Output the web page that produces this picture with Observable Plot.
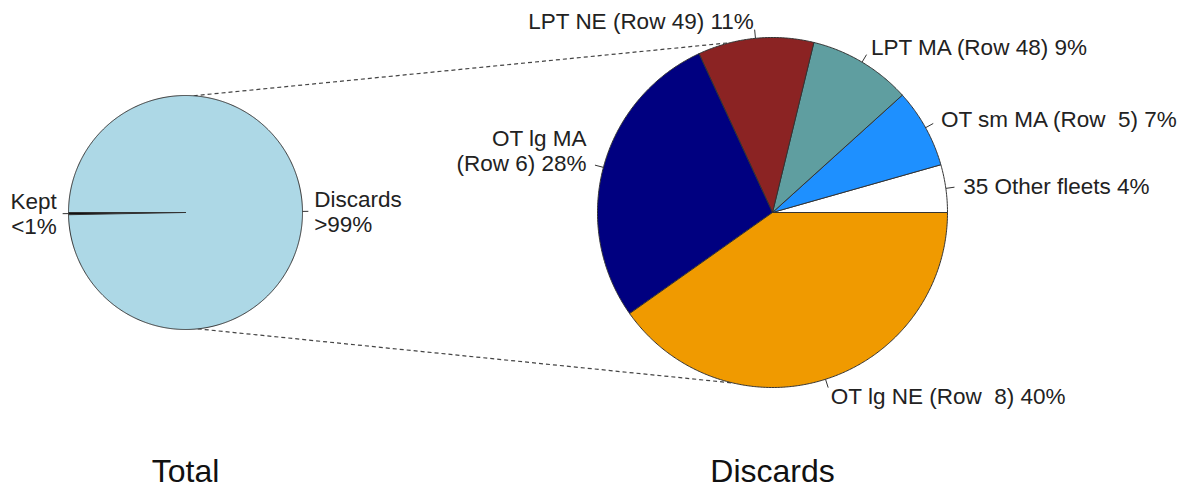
<!DOCTYPE html>
<html><head><meta charset="utf-8">
<script src="https://cdn.jsdelivr.net/npm/d3@7"></script>
<script src="https://cdn.jsdelivr.net/npm/@observablehq/plot@0.6"></script>
<style>body{margin:0;background:#fff;overflow:hidden}</style>
</head><body><div id="chart"></div>
<script>
// ---- data ----
const totalCategories = ["Kept", "Discards"];
const totalValues = [0.3, 99.7];
const totalLabels = ["Kept\n<1%", "Discards\n>99%"];
const totalColors = ["#111111", "#ADD8E6"];

const discardCategories = ["35 Other fleets", "OT sm MA (Row  5)", "LPT MA (Row 48)", "LPT NE (Row 49)", "OT lg MA (Row 6)", "OT lg NE (Row  8)"];
const discardValues = [4.4, 7.3, 9.5, 10.7, 27.9, 40.2];
const discardLabels = ["35 Other fleets 4%", "OT sm MA (Row  5) 7%", "LPT MA (Row 48) 9%", "LPT NE (Row 49) 11%", "OT lg MA\n(Row 6) 28%\n", "OT lg NE (Row  8) 40%"];
const discardColors = ["#FFFFFF", "#1E90FF", "#5F9EA0", "#8B2323", "#000080", "#F09A00"];

const pieTitles = ["Total", "Discards"];

// ---- layout ----
const W = 1193, H = 493;
const pies = [
  {title: pieTitles[0], cx: 185, cy: 212, r: 117, start: 180, cats: totalCategories, values: totalValues, labels: totalLabels, colors: totalColors},
  {title: pieTitles[1], cx: 772, cy: 212, r: 175, start: 0, cats: discardCategories, values: discardValues, labels: discardLabels, colors: discardColors}
];
const rad = d => d * Math.PI / 180;
const pt = (p, ang, rr) => [p.cx + rr * Math.cos(rad(ang)), p.cy - rr * Math.sin(rad(ang))];

const polys = [], labels = [], ticks = [], titleRows = [];
pies.forEach((p, pi) => {
  const total = d3.sum(p.values);
  let cum = 0;
  p.values.forEach((v, i) => {
    const a0 = p.start + 360 * cum / total;
    const a1 = p.start + 360 * (cum + v) / total;
    cum += v;
    const id = pi + "-" + i;
    polys.push({id, x: p.cx, y: p.cy, color: p.colors[i]});
    const n = Math.max(2, Math.ceil((a1 - a0) / 0.5));
    for (let k = 0; k <= n; k++) {
      const [x, y] = pt(p, a0 + (a1 - a0) * k / n, p.r);
      polys.push({id, x, y, color: p.colors[i]});
    }
    polys.push({id, x: p.cx, y: p.cy, color: p.colors[i]});
    const mid = (a0 + a1) / 2;
    const [tx1, ty1] = pt(p, mid, p.r);
    const [tx2, ty2] = pt(p, mid, p.r * 1.05);
    ticks.push({x1: tx1, y1: ty1, x2: tx2, y2: ty2});
    const [lx, ly] = pt(p, mid, p.r * 1.1);
    labels.push({x: lx, y: ly, text: p.labels[i], left: Math.cos(rad(mid)) < 0});
  });
  titleRows.push({x: p.cx, y: 471, text: p.title});
});

// zoom connectors (left pie rim -> right pie rim)
const connectors = [[86, 104], [276, 257]].map(([a, b]) => {
  const [x1, y1] = pt(pies[0], a, pies[0].r);
  const [x2, y2] = pt(pies[1], b, pies[1].r);
  return {x1, y1, x2, y2};
});

const chart = Plot.plot({
  width: W, height: H,
  margin: 0,
  x: {domain: [0, W], range: [0, W], axis: null},
  y: {domain: [0, H], range: [0, H], axis: null},
  color: {type: "identity"},
  style: {fontFamily: "'Liberation Sans', Arial, sans-serif", background: "#fff"},
  marks: [
    Plot.link(connectors, {x1: "x1", y1: "y1", x2: "x2", y2: "y2", stroke: "#444", strokeWidth: 1.2, strokeDasharray: "4,3"}),
    Plot.line(polys, {x: "x", y: "y", z: "id", fill: "color", stroke: "#333", strokeWidth: 1, strokeLinejoin: "round"}),
    Plot.link(ticks, {x1: "x1", y1: "y1", x2: "x2", y2: "y2", stroke: "#333", strokeWidth: 1}),
    Plot.text(labels, {filter: d => d.left, x: "x", y: "y", text: "text", textAnchor: "end", lineAnchor: "middle", lineHeight: 1.12, fontSize: 22.5, fill: "#222"}),
    Plot.text(labels, {filter: d => !d.left, x: "x", y: "y", text: "text", textAnchor: "start", lineAnchor: "middle", lineHeight: 1.12, fontSize: 22.5, fill: "#222"}),
    Plot.text(titleRows, {x: "x", y: "y", text: "text", fontSize: 32, fill: "#111"})
  ]
});
document.getElementById("chart").appendChild(chart);
</script>
</body></html>
